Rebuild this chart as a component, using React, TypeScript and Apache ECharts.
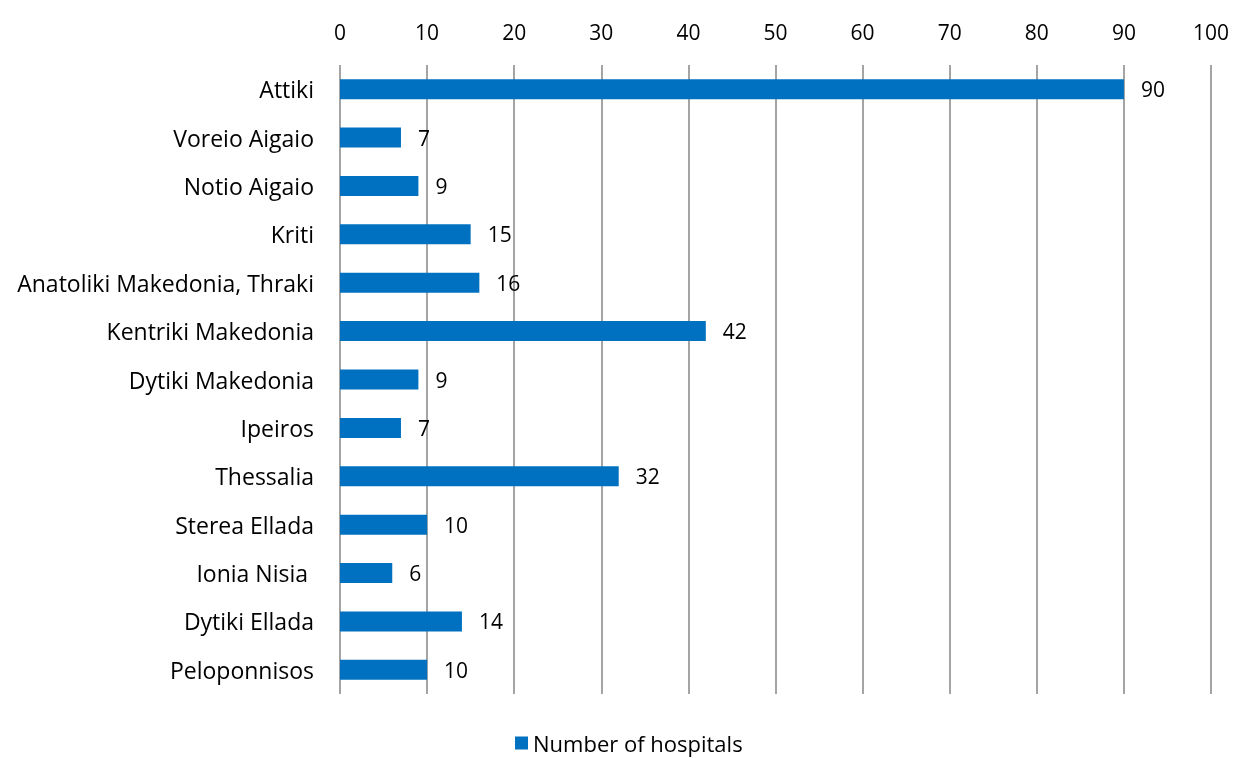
import React, { useEffect, useRef } from "react";
import * as echarts from "echarts";

const categories = [
  "Attiki",
  "Voreio Aigaio",
  "Notio Aigaio",
  "Kriti",
  "Anatoliki Makedonia, Thraki",
  "Kentriki Makedonia",
  "Dytiki Makedonia",
  "Ipeiros",
  "Thessalia",
  "Sterea Ellada",
  "Ionia Nisia ",
  "Dytiki Ellada",
  "Peloponnisos",
];
const hospitals = [90, 7, 9, 15, 16, 42, 9, 7, 32, 10, 6, 14, 10];
const seriesName = "Number of hospitals";

const FONT = "Open Sans";

export default function App() {
  const ref = useRef<HTMLDivElement>(null);
  useEffect(() => {
    if (!ref.current) return;
    const chart = echarts.init(ref.current, undefined, { renderer: "svg" });
    chart.setOption({
      animation: false,
      textStyle: { fontFamily: FONT },
      grid: { left: 340, right: 23, top: 65, bottom: 64, containLabel: false },
      legend: {
        bottom: -1,
        left: 510,
        itemWidth: 13,
        itemHeight: 13,
        itemGap: 7,
        icon: "rect",
        textStyle: { fontSize: 22, color: "#000", fontFamily: FONT },
        data: [seriesName],
      },
      xAxis: {
        type: "value",
        position: "top",
        min: 0,
        max: 100,
        interval: 10,
        axisLine: { show: false },
        axisTick: { show: false },
        axisLabel: { fontSize: 21, color: "#000", margin: 23, fontFamily: FONT },
        splitLine: { show: true, lineStyle: { color: "#868686", width: 1.5 } },
      },
      yAxis: {
        type: "category",
        inverse: true,
        data: categories,
        axisLine: { show: false },
        axisTick: { show: false },
        axisLabel: { fontSize: 23, color: "#000", margin: 26, fontFamily: FONT },
      },
      series: [
        {
          name: seriesName,
          type: "bar",
          data: hospitals,
          barWidth: 20,
          itemStyle: { color: "#0070C0" },
          label: {
            show: true,
            position: "right",
            distance: 17,
            fontSize: 21,
            color: "#000",
            fontFamily: FONT,
          },
        },
      ],
    });
    return () => chart.dispose();
  }, []);
  return (
    <div
      ref={ref}
      style={{ position: "fixed", left: 0, top: 0, width: 1234, height: 758 }}
    />
  );
}
